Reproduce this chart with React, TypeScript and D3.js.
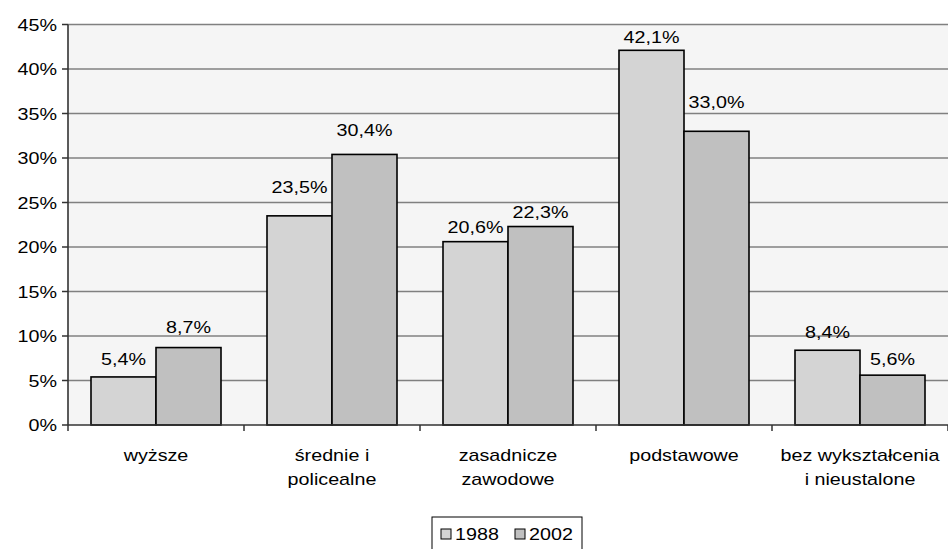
import React from "react";
import * as d3 from "d3";

const categories: string[][] = [
  ["wyższe"],
  ["średnie i", "policealne"],
  ["zasadnicze", "zawodowe"],
  ["podstawowe"],
  ["bez wykształcenia", "i nieustalone"],
];
const series = ["1988", "2002"];
const values1988 = [5.4, 23.5, 20.6, 42.1, 8.4];
const values2002 = [8.7, 30.4, 22.3, 33.0, 5.6];
const yTicks = [0, 5, 10, 15, 20, 25, 30, 35, 40, 45];
const colors = ["#d4d4d4", "#c0c0c0"];
// label gap above bar tops (styling, px)
const labelGap1988 = [12, 23, 9, 7, 12];
const labelGap2002 = [15, 18, 9, 23, 10];

const W = 948;
const H = 549;
const left = 68;
const right = 948;
const top = 24.5;
const bottom = 425;
const font = "'Liberation Sans', Arial, sans-serif";
const FS = 17;
const SX = 1.16;

function T({ x, y, anchor = "middle", children }: { x: number; y: number; anchor?: string; children: React.ReactNode }) {
  return (
    <text
      transform={`translate(${x},${y}) scale(${SX},1)`}
      textAnchor={anchor}
      fontSize={FS}
      fill="#000"
    >
      {children}
    </text>
  );
}

export default function App() {
  const y = d3.scaleLinear().domain([0, 45]).range([bottom, top]);
  const x0 = d3
    .scaleBand<number>()
    .domain(categories.map((_, i) => i))
    .range([left, right]);
  const groupW = 130;
  const x1 = d3.scaleBand<number>().domain([0, 1]).range([0, groupW]);
  const data = [values1988, values2002];
  const gaps = [labelGap1988, labelGap2002];
  const fmt = (v: number) => v.toFixed(1).replace(".", ",") + "%";

  return (
    <svg
      width={W}
      height={H}
      style={{ position: "absolute", left: 0, top: 0, fontFamily: font }}
    >
      <rect x={0} y={0} width={W} height={H} fill="#ffffff" />
      <rect x={left} y={top} width={right - left} height={bottom - top} fill="#f5f5f5" />
      {yTicks.map((t) => (
        <g key={t}>
          {t > 0 && (
            <line x1={left} x2={right} y1={y(t)} y2={y(t)} stroke="#808080" strokeWidth={1.6} />
          )}
          <line x1={left - 6} x2={left} y1={y(t)} y2={y(t)} stroke="#333" strokeWidth={1.5} />
          <T x={57} y={y(t) + 6} anchor="end">
            {t}%
          </T>
        </g>
      ))}
      {categories.map((_, i) => {
        const gx = x0(i)! + (x0.bandwidth() - groupW) / 2;
        return (
          <g key={i}>
            {data.map((vals, s) => {
              const bx = gx + x1(s)!;
              const by = y(vals[i]);
              return (
                <g key={s}>
                  <rect
                    x={bx}
                    y={by}
                    width={x1.bandwidth()}
                    height={bottom - by}
                    fill={colors[s]}
                    stroke="#000"
                    strokeWidth={1.6}
                  />
                  <T x={bx + x1.bandwidth() / 2} y={by - gaps[s][i]}>
                    {fmt(vals[i])}
                  </T>
                </g>
              );
            })}
          </g>
        );
      })}
      <line x1={left} x2={right} y1={bottom} y2={bottom} stroke="#333" strokeWidth={1.6} />
      <line x1={left} x2={left} y1={top} y2={bottom} stroke="#333" strokeWidth={1.6} />
      {d3.range(categories.length + 1).map((i) => {
        const tx = left + i * x0.bandwidth();
        return (
          <line key={i} x1={tx} x2={tx} y1={bottom} y2={bottom + 6} stroke="#333" strokeWidth={1.5} />
        );
      })}
      {categories.map((lines, i) =>
        lines.map((l, k) => (
          <T key={i + "-" + k} x={x0(i)! + x0.bandwidth() / 2} y={461 + k * 24}>
            {l}
          </T>
        ))
      )}
      <g>
        <rect x={432} y={517} width={150} height={40} fill="#fff" stroke="#000" strokeWidth={1} />
        {series.map((s, k) => {
          const lx = 441 + k * 74;
          return (
            <g key={s}>
              <rect x={lx} y={529} width={10} height={10} fill={colors[k]} stroke="#000" strokeWidth={1} />
              <T x={lx + 14} y={540} anchor="start">
                {s}
              </T>
            </g>
          );
        })}
      </g>
    </svg>
  );
}
